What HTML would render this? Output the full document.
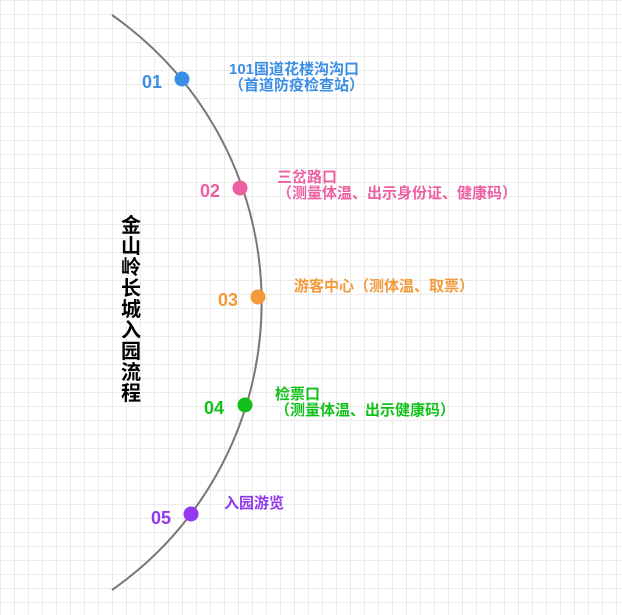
<!DOCTYPE html>
<html><head><meta charset="utf-8"><style>
body{margin:0;width:622px;height:615px;overflow:hidden;background:#fff;
background-image:linear-gradient(#ebebeb 1px,transparent 1px),linear-gradient(90deg,#ebebeb 1px,transparent 1px);background-size:14px 14px;
font-family:"Liberation Sans","Noto Sans CJK SC",sans-serif;font-weight:bold;position:relative}
.t{position:absolute;white-space:nowrap;font-size:15px;line-height:16px}
.n{position:absolute;font-size:18px;font-family:"Liberation Sans",sans-serif}
.v{position:absolute;left:121px;top:216px;width:22px;font-size:20px;line-height:21px;color:#000}
</style></head><body>
<svg width="622" height="615" style="position:absolute;left:0;top:0">
<path d="M112 15 A351 351 0 0 1 112 590" fill="none" stroke="#777" stroke-width="2"/>
<circle cx="182" cy="79" r="7.5" fill="#3a8ee6"/>
<circle cx="240" cy="188" r="7.5" fill="#ee5fa2"/>
<circle cx="258" cy="297" r="7.5" fill="#f39a3a"/>
<circle cx="245" cy="405" r="7.5" fill="#11c11a"/>
<circle cx="191" cy="514" r="7.5" fill="#9238ee"/>
</svg>
<div class="n" style="left:142px;top:72px;color:#3a8ee6">01</div>
<div class="n" style="left:200px;top:181px;color:#ee5fa2">02</div>
<div class="n" style="left:218px;top:290px;color:#f39a3a">03</div>
<div class="n" style="left:204px;top:398px;color:#11c11a">04</div>
<div class="n" style="left:151px;top:508px;color:#9238ee">05</div>
<div class="t" style="left:229px;top:62px;color:#3a8ee6">101国道花楼沟沟口<br>（首道防疫检查站）</div>
<div class="t" style="left:277px;top:170px;color:#ee5fa2">三岔路口<br>（测量体温、出示身份证、健康码）</div>
<div class="t" style="left:294px;top:279px;color:#f39a3a">游客中心（测体温、取票）</div>
<div class="t" style="left:275px;top:387px;color:#11c11a">检票口<br>（测量体温、出示健康码）</div>
<div class="t" style="left:224px;top:496px;color:#9238ee">入园游览</div>
<div class="v">金山岭长城入园流程</div>
</body></html>
